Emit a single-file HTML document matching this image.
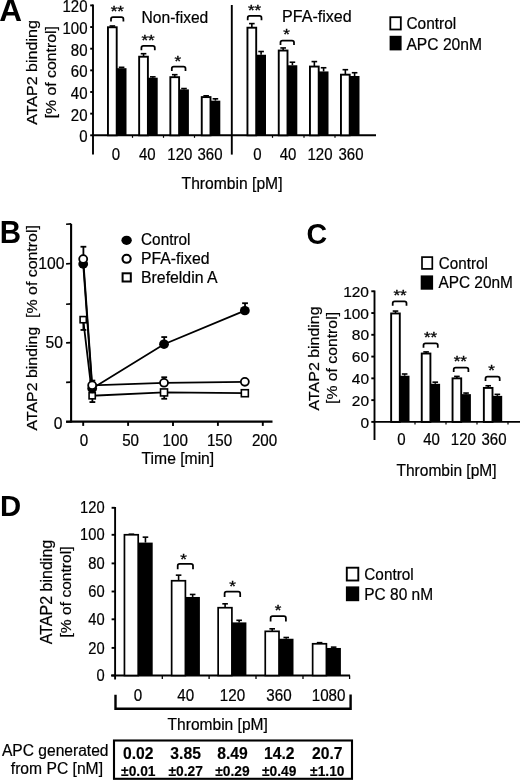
<!DOCTYPE html>
<html><head><meta charset="utf-8"><title>Figure</title>
<style>
html,body{margin:0;padding:0;background:#fff;}
svg{display:block;filter:blur(0.6px);font-family:"Liberation Sans",sans-serif;fill:#000;}
</style></head><body>
<svg width="520" height="781" viewBox="0 0 520 781">
<rect x="0" y="0" width="520" height="781" fill="#fff" stroke="none"/>
<text transform="translate(-0.70 20.70) scale(1 1.0)" font-size="31.5" font-weight="bold">A</text>
<line x1="93.00" y1="4.40" x2="93.00" y2="154.60" stroke="#000" stroke-width="1.9" stroke-linecap="butt"/>
<line x1="92.20" y1="135.30" x2="376.00" y2="135.30" stroke="#000" stroke-width="1.9" stroke-linecap="butt"/>
<line x1="90.20" y1="135.30" x2="93.00" y2="135.30" stroke="#000" stroke-width="1.9" stroke-linecap="butt"/>
<text transform="translate(87.50 142.20) scale(1 1.1)" font-size="15" text-anchor="end" stroke="#000" stroke-width="0.2">0</text>
<line x1="90.20" y1="113.65" x2="93.00" y2="113.65" stroke="#000" stroke-width="1.9" stroke-linecap="butt"/>
<text transform="translate(87.50 120.55) scale(1 1.1)" font-size="15" text-anchor="end" stroke="#000" stroke-width="0.2">20</text>
<line x1="90.20" y1="92.00" x2="93.00" y2="92.00" stroke="#000" stroke-width="1.9" stroke-linecap="butt"/>
<text transform="translate(87.50 98.90) scale(1 1.1)" font-size="15" text-anchor="end" stroke="#000" stroke-width="0.2">40</text>
<line x1="90.20" y1="70.35" x2="93.00" y2="70.35" stroke="#000" stroke-width="1.9" stroke-linecap="butt"/>
<text transform="translate(87.50 77.25) scale(1 1.1)" font-size="15" text-anchor="end" stroke="#000" stroke-width="0.2">60</text>
<line x1="90.20" y1="48.70" x2="93.00" y2="48.70" stroke="#000" stroke-width="1.9" stroke-linecap="butt"/>
<text transform="translate(87.50 55.60) scale(1 1.1)" font-size="15" text-anchor="end" stroke="#000" stroke-width="0.2">80</text>
<line x1="90.20" y1="27.05" x2="93.00" y2="27.05" stroke="#000" stroke-width="1.9" stroke-linecap="butt"/>
<text transform="translate(87.50 33.95) scale(1 1.1)" font-size="15" text-anchor="end" stroke="#000" stroke-width="0.2">100</text>
<line x1="90.20" y1="5.40" x2="93.00" y2="5.40" stroke="#000" stroke-width="1.9" stroke-linecap="butt"/>
<text transform="translate(87.50 12.30) scale(1 1.1)" font-size="15" text-anchor="end" stroke="#000" stroke-width="0.2">120</text>
<line x1="231.80" y1="5.00" x2="231.80" y2="154.60" stroke="#000" stroke-width="1.9" stroke-linecap="butt"/>
<text transform="translate(37.40 72.50) rotate(-90) scale(1 1.0)" font-size="15" text-anchor="middle" textLength="104.60" lengthAdjust="spacingAndGlyphs" stroke="#000" stroke-width="0.2">ATAP2 binding</text>
<text transform="translate(55.60 72.20) rotate(-90) scale(1 1.0)" font-size="15" text-anchor="middle" textLength="92.20" lengthAdjust="spacingAndGlyphs" stroke="#000" stroke-width="0.2">[% of control]</text>
<rect x="107.95" y="27.27" width="8.75" height="108.03" fill="#fff" stroke="#000" stroke-width="1.9"/>
<rect x="116.70" y="68.19" width="9.80" height="67.11" fill="#000"/>
<line x1="112.35" y1="25.97" x2="112.35" y2="27.27" stroke="#000" stroke-width="1.6" stroke-linecap="butt"/>
<line x1="109.55" y1="25.97" x2="115.15" y2="25.97" stroke="#000" stroke-width="1.6" stroke-linecap="butt"/>
<line x1="121.60" y1="67.32" x2="121.60" y2="68.19" stroke="#000" stroke-width="1.6" stroke-linecap="butt"/>
<line x1="118.80" y1="67.32" x2="124.40" y2="67.32" stroke="#000" stroke-width="1.6" stroke-linecap="butt"/>
<rect x="139.15" y="56.71" width="8.75" height="78.59" fill="#fff" stroke="#000" stroke-width="1.9"/>
<rect x="147.90" y="77.71" width="9.80" height="57.59" fill="#000"/>
<line x1="143.55" y1="53.68" x2="143.55" y2="56.71" stroke="#000" stroke-width="1.6" stroke-linecap="butt"/>
<line x1="140.75" y1="53.68" x2="146.35" y2="53.68" stroke="#000" stroke-width="1.6" stroke-linecap="butt"/>
<line x1="152.80" y1="76.85" x2="152.80" y2="77.71" stroke="#000" stroke-width="1.6" stroke-linecap="butt"/>
<line x1="150.00" y1="76.85" x2="155.60" y2="76.85" stroke="#000" stroke-width="1.6" stroke-linecap="butt"/>
<rect x="170.35" y="77.17" width="8.75" height="58.13" fill="#fff" stroke="#000" stroke-width="1.9"/>
<rect x="179.10" y="89.40" width="9.80" height="45.90" fill="#000"/>
<line x1="174.75" y1="74.68" x2="174.75" y2="77.17" stroke="#000" stroke-width="1.6" stroke-linecap="butt"/>
<line x1="171.95" y1="74.68" x2="177.55" y2="74.68" stroke="#000" stroke-width="1.6" stroke-linecap="butt"/>
<line x1="184.00" y1="88.54" x2="184.00" y2="89.40" stroke="#000" stroke-width="1.6" stroke-linecap="butt"/>
<line x1="181.20" y1="88.54" x2="186.80" y2="88.54" stroke="#000" stroke-width="1.6" stroke-linecap="butt"/>
<rect x="201.75" y="97.09" width="8.75" height="38.21" fill="#fff" stroke="#000" stroke-width="1.9"/>
<rect x="210.50" y="100.66" width="9.80" height="34.64" fill="#000"/>
<line x1="206.15" y1="95.79" x2="206.15" y2="97.09" stroke="#000" stroke-width="1.6" stroke-linecap="butt"/>
<line x1="203.35" y1="95.79" x2="208.95" y2="95.79" stroke="#000" stroke-width="1.6" stroke-linecap="butt"/>
<line x1="215.40" y1="98.82" x2="215.40" y2="100.66" stroke="#000" stroke-width="1.6" stroke-linecap="butt"/>
<line x1="212.60" y1="98.82" x2="218.20" y2="98.82" stroke="#000" stroke-width="1.6" stroke-linecap="butt"/>
<rect x="247.45" y="27.70" width="8.75" height="107.60" fill="#fff" stroke="#000" stroke-width="1.9"/>
<rect x="256.20" y="54.76" width="9.80" height="80.54" fill="#000"/>
<line x1="251.85" y1="23.59" x2="251.85" y2="27.70" stroke="#000" stroke-width="1.6" stroke-linecap="butt"/>
<line x1="249.05" y1="23.59" x2="254.65" y2="23.59" stroke="#000" stroke-width="1.6" stroke-linecap="butt"/>
<line x1="261.10" y1="51.51" x2="261.10" y2="54.76" stroke="#000" stroke-width="1.6" stroke-linecap="butt"/>
<line x1="258.30" y1="51.51" x2="263.90" y2="51.51" stroke="#000" stroke-width="1.6" stroke-linecap="butt"/>
<rect x="278.75" y="50.54" width="8.75" height="84.76" fill="#fff" stroke="#000" stroke-width="1.9"/>
<rect x="287.50" y="65.26" width="9.80" height="70.04" fill="#000"/>
<line x1="283.15" y1="47.94" x2="283.15" y2="50.54" stroke="#000" stroke-width="1.6" stroke-linecap="butt"/>
<line x1="280.35" y1="47.94" x2="285.95" y2="47.94" stroke="#000" stroke-width="1.6" stroke-linecap="butt"/>
<line x1="292.40" y1="62.23" x2="292.40" y2="65.26" stroke="#000" stroke-width="1.6" stroke-linecap="butt"/>
<line x1="289.60" y1="62.23" x2="295.20" y2="62.23" stroke="#000" stroke-width="1.6" stroke-linecap="butt"/>
<rect x="309.95" y="66.56" width="8.75" height="68.74" fill="#fff" stroke="#000" stroke-width="1.9"/>
<rect x="318.70" y="71.43" width="9.80" height="63.87" fill="#000"/>
<line x1="314.35" y1="61.58" x2="314.35" y2="66.56" stroke="#000" stroke-width="1.6" stroke-linecap="butt"/>
<line x1="311.55" y1="61.58" x2="317.15" y2="61.58" stroke="#000" stroke-width="1.6" stroke-linecap="butt"/>
<line x1="323.60" y1="67.75" x2="323.60" y2="71.43" stroke="#000" stroke-width="1.6" stroke-linecap="butt"/>
<line x1="320.80" y1="67.75" x2="326.40" y2="67.75" stroke="#000" stroke-width="1.6" stroke-linecap="butt"/>
<rect x="340.95" y="74.68" width="8.75" height="60.62" fill="#fff" stroke="#000" stroke-width="1.9"/>
<rect x="349.70" y="75.98" width="9.80" height="59.32" fill="#000"/>
<line x1="345.35" y1="69.70" x2="345.35" y2="74.68" stroke="#000" stroke-width="1.6" stroke-linecap="butt"/>
<line x1="342.55" y1="69.70" x2="348.15" y2="69.70" stroke="#000" stroke-width="1.6" stroke-linecap="butt"/>
<line x1="354.60" y1="72.73" x2="354.60" y2="75.98" stroke="#000" stroke-width="1.6" stroke-linecap="butt"/>
<line x1="351.80" y1="72.73" x2="357.40" y2="72.73" stroke="#000" stroke-width="1.6" stroke-linecap="butt"/>
<line x1="132.50" y1="135.30" x2="132.50" y2="137.80" stroke="#000" stroke-width="1.2" stroke-linecap="butt"/>
<line x1="163.50" y1="135.30" x2="163.50" y2="137.80" stroke="#000" stroke-width="1.2" stroke-linecap="butt"/>
<line x1="194.50" y1="135.30" x2="194.50" y2="137.80" stroke="#000" stroke-width="1.2" stroke-linecap="butt"/>
<line x1="272.50" y1="135.30" x2="272.50" y2="137.80" stroke="#000" stroke-width="1.2" stroke-linecap="butt"/>
<line x1="304.00" y1="135.30" x2="304.00" y2="137.80" stroke="#000" stroke-width="1.2" stroke-linecap="butt"/>
<line x1="335.00" y1="135.30" x2="335.00" y2="137.80" stroke="#000" stroke-width="1.2" stroke-linecap="butt"/>
<path d="M111.00 21.50 V19.10 Q111.00 17.10 113.00 17.10 H121.40 Q123.40 17.10 123.40 19.10 V21.50" fill="none" stroke="#000" stroke-width="1.75"/>
<text transform="translate(117.30 16.49) scale(1 0.9)" font-size="17" text-anchor="middle" stroke="#000" stroke-width="0.4">**</text>
<path d="M141.40 50.30 V47.90 Q141.40 45.90 143.40 45.90 H152.80 Q154.80 45.90 154.80 47.90 V50.30" fill="none" stroke="#000" stroke-width="1.75"/>
<text transform="translate(148.00 45.29) scale(1 0.9)" font-size="17" text-anchor="middle" stroke="#000" stroke-width="0.4">**</text>
<path d="M171.80 70.90 V68.50 Q171.80 66.50 173.80 66.50 H183.50 Q185.50 66.50 185.50 68.50 V70.90" fill="none" stroke="#000" stroke-width="1.75"/>
<text transform="translate(177.80 66.29) scale(1 0.9)" font-size="17" text-anchor="middle" stroke="#000" stroke-width="0.4">*</text>
<path d="M247.70 20.30 V17.90 Q247.70 15.90 249.70 15.90 H259.50 Q261.50 15.90 261.50 17.90 V20.30" fill="none" stroke="#000" stroke-width="1.75"/>
<text transform="translate(254.50 15.19) scale(1 0.9)" font-size="17" text-anchor="middle" stroke="#000" stroke-width="0.4">**</text>
<path d="M280.50 45.00 V42.60 Q280.50 40.60 282.50 40.60 H292.00 Q294.00 40.60 294.00 42.60 V45.00" fill="none" stroke="#000" stroke-width="1.75"/>
<text transform="translate(286.50 39.49) scale(1 0.9)" font-size="17" text-anchor="middle" stroke="#000" stroke-width="0.4">*</text>
<text transform="translate(141.50 22.50) scale(1 1.08)" font-size="15.4" textLength="66.80" lengthAdjust="spacingAndGlyphs" stroke="#000" stroke-width="0.2">Non-fixed</text>
<text transform="translate(282.10 22.40) scale(1 1.03)" font-size="15.6" textLength="69.60" lengthAdjust="spacingAndGlyphs" stroke="#000" stroke-width="0.2">PFA-fixed</text>
<text transform="translate(116.00 159.50) scale(1 1.12)" font-size="15" text-anchor="middle" stroke="#000" stroke-width="0.2">0</text>
<text transform="translate(147.30 159.50) scale(1 1.12)" font-size="15" text-anchor="middle" stroke="#000" stroke-width="0.2">40</text>
<text transform="translate(179.80 159.50) scale(1 1.12)" font-size="15" text-anchor="middle" stroke="#000" stroke-width="0.2">120</text>
<text transform="translate(210.00 159.50) scale(1 1.12)" font-size="15" text-anchor="middle" stroke="#000" stroke-width="0.2">360</text>
<text transform="translate(257.50 159.50) scale(1 1.12)" font-size="15" text-anchor="middle" stroke="#000" stroke-width="0.2">0</text>
<text transform="translate(288.00 159.50) scale(1 1.12)" font-size="15" text-anchor="middle" stroke="#000" stroke-width="0.2">40</text>
<text transform="translate(320.00 159.50) scale(1 1.12)" font-size="15" text-anchor="middle" stroke="#000" stroke-width="0.2">120</text>
<text transform="translate(351.00 159.50) scale(1 1.12)" font-size="15" text-anchor="middle" stroke="#000" stroke-width="0.2">360</text>
<text transform="translate(181.60 189.10) scale(1 1.1)" font-size="15" textLength="100.90" lengthAdjust="spacingAndGlyphs" stroke="#000" stroke-width="0.2">Thrombin [pM]</text>
<rect x="390.30" y="17.20" width="10.50" height="12.30" fill="#fff" stroke="#000" stroke-width="1.8"/>
<rect x="389.6" y="35.8" width="12" height="14.6" fill="#000"/>
<text transform="translate(406.40 29.40) scale(1 1.1)" font-size="15.5" textLength="49.80" lengthAdjust="spacingAndGlyphs" stroke="#000" stroke-width="0.2">Control</text>
<text transform="translate(406.40 49.60) scale(1 1.1)" font-size="15.5" textLength="75.60" lengthAdjust="spacingAndGlyphs" stroke="#000" stroke-width="0.2">APC 20nM</text>
<text transform="translate(-0.20 243.00) scale(1 1.04)" font-size="29.5" font-weight="bold">B</text>
<line x1="71.10" y1="223.80" x2="71.10" y2="422.60" stroke="#000" stroke-width="2.1" stroke-linecap="butt"/>
<line x1="66.10" y1="421.70" x2="272.50" y2="421.70" stroke="#000" stroke-width="2.3000000000000003" stroke-linecap="butt"/>
<line x1="66.10" y1="422.00" x2="71.10" y2="421.70" stroke="#000" stroke-width="1.7000000000000002" stroke-linecap="butt"/>
<line x1="66.10" y1="382.45" x2="71.10" y2="382.15" stroke="#000" stroke-width="1.7000000000000002" stroke-linecap="butt"/>
<line x1="66.10" y1="342.90" x2="71.10" y2="342.60" stroke="#000" stroke-width="1.7000000000000002" stroke-linecap="butt"/>
<line x1="66.10" y1="304.25" x2="71.10" y2="303.95" stroke="#000" stroke-width="1.7000000000000002" stroke-linecap="butt"/>
<line x1="66.10" y1="263.80" x2="71.10" y2="263.50" stroke="#000" stroke-width="1.7000000000000002" stroke-linecap="butt"/>
<line x1="66.10" y1="224.25" x2="71.10" y2="223.95" stroke="#000" stroke-width="1.7000000000000002" stroke-linecap="butt"/>
<text transform="translate(62.40 428.80) scale(1 1.0)" font-size="15.7" text-anchor="end" stroke="#000" stroke-width="0.2">0</text>
<text transform="translate(62.90 348.30) scale(1 1.0)" font-size="15.7" text-anchor="end" stroke="#000" stroke-width="0.2">50</text>
<text transform="translate(64.40 268.90) scale(1 1.0)" font-size="15.7" text-anchor="end" stroke="#000" stroke-width="0.2">100</text>
<line x1="83.20" y1="421.70" x2="83.20" y2="425.90" stroke="#000" stroke-width="1.9000000000000001" stroke-linecap="butt"/>
<text transform="translate(84.00 445.90) scale(1 1.1)" font-size="15.2" text-anchor="middle" stroke="#000" stroke-width="0.2">0</text>
<line x1="128.10" y1="421.70" x2="128.10" y2="425.90" stroke="#000" stroke-width="1.9000000000000001" stroke-linecap="butt"/>
<text transform="translate(130.60 445.90) scale(1 1.1)" font-size="15.2" text-anchor="middle" stroke="#000" stroke-width="0.2">50</text>
<line x1="173.00" y1="421.70" x2="173.00" y2="425.90" stroke="#000" stroke-width="1.9000000000000001" stroke-linecap="butt"/>
<text transform="translate(175.30 445.90) scale(1 1.1)" font-size="15.2" text-anchor="middle" stroke="#000" stroke-width="0.2">100</text>
<line x1="217.90" y1="421.70" x2="217.90" y2="425.90" stroke="#000" stroke-width="1.9000000000000001" stroke-linecap="butt"/>
<text transform="translate(219.60 445.90) scale(1 1.1)" font-size="15.2" text-anchor="middle" stroke="#000" stroke-width="0.2">150</text>
<line x1="262.80" y1="421.70" x2="262.80" y2="425.90" stroke="#000" stroke-width="1.9000000000000001" stroke-linecap="butt"/>
<text transform="translate(264.60 445.90) scale(1 1.1)" font-size="15.2" text-anchor="middle" stroke="#000" stroke-width="0.2">200</text>
<text transform="translate(141.60 463.50) scale(1 1.1)" font-size="15" textLength="72.60" lengthAdjust="spacingAndGlyphs" stroke="#000" stroke-width="0.2">Time [min]</text>
<text transform="translate(37.30 327.80) rotate(-90) scale(1 1.0)" font-size="15" text-anchor="middle" textLength="205.30" lengthAdjust="spacingAndGlyphs" stroke="#000" stroke-width="0.2">ATAP2 binding&#160; [% of control]</text>
<polyline points="83.20,319.66 92.18,395.76 164.02,392.43 244.84,393.22" fill="none" stroke="#000" stroke-width="1.8"/>
<polyline points="83.20,259.07 92.18,385.31 164.02,382.78 244.84,381.83" fill="none" stroke="#000" stroke-width="1.8"/>
<polyline points="83.20,263.97 92.18,388.48 164.02,344.18 244.84,310.64" fill="none" stroke="#000" stroke-width="1.8"/>
<line x1="83.40" y1="329.94" x2="83.40" y2="319.66" stroke="#000" stroke-width="1.8" stroke-linecap="butt"/>
<line x1="80.50" y1="329.94" x2="86.30" y2="329.94" stroke="#000" stroke-width="1.8" stroke-linecap="butt"/>
<line x1="92.38" y1="402.08" x2="92.38" y2="395.76" stroke="#000" stroke-width="1.8" stroke-linecap="butt"/>
<line x1="89.48" y1="402.08" x2="95.28" y2="402.08" stroke="#000" stroke-width="1.8" stroke-linecap="butt"/>
<line x1="164.22" y1="398.76" x2="164.22" y2="392.43" stroke="#000" stroke-width="1.8" stroke-linecap="butt"/>
<line x1="161.32" y1="398.76" x2="167.12" y2="398.76" stroke="#000" stroke-width="1.8" stroke-linecap="butt"/>
<line x1="83.40" y1="246.73" x2="83.40" y2="259.07" stroke="#000" stroke-width="1.8" stroke-linecap="butt"/>
<line x1="80.50" y1="246.73" x2="86.30" y2="246.73" stroke="#000" stroke-width="1.8" stroke-linecap="butt"/>
<line x1="92.38" y1="380.57" x2="92.38" y2="385.31" stroke="#000" stroke-width="1.8" stroke-linecap="butt"/>
<line x1="89.48" y1="380.57" x2="95.28" y2="380.57" stroke="#000" stroke-width="1.8" stroke-linecap="butt"/>
<line x1="164.22" y1="377.25" x2="164.22" y2="382.78" stroke="#000" stroke-width="1.8" stroke-linecap="butt"/>
<line x1="161.32" y1="377.25" x2="167.12" y2="377.25" stroke="#000" stroke-width="1.8" stroke-linecap="butt"/>
<line x1="164.22" y1="337.06" x2="164.22" y2="344.18" stroke="#000" stroke-width="1.8" stroke-linecap="butt"/>
<line x1="161.32" y1="337.06" x2="167.12" y2="337.06" stroke="#000" stroke-width="1.8" stroke-linecap="butt"/>
<line x1="245.04" y1="303.21" x2="245.04" y2="310.64" stroke="#000" stroke-width="1.8" stroke-linecap="butt"/>
<line x1="242.14" y1="303.21" x2="247.94" y2="303.21" stroke="#000" stroke-width="1.8" stroke-linecap="butt"/>
<rect x="80.10" y="316.56" width="6.20" height="6.20" fill="#fff" stroke="#000" stroke-width="1.6"/>
<rect x="89.08" y="392.66" width="6.20" height="6.20" fill="#fff" stroke="#000" stroke-width="1.6"/>
<rect x="160.52" y="388.93" width="7.00" height="7.00" fill="#fff" stroke="#000" stroke-width="1.6"/>
<rect x="241.34" y="389.72" width="7.00" height="7.00" fill="#fff" stroke="#000" stroke-width="1.6"/>
<ellipse cx="83.20" cy="263.97" rx="4.9" ry="4.7" fill="#000"/>
<ellipse cx="92.18" cy="388.48" rx="4.9" ry="4.7" fill="#000"/>
<ellipse cx="164.02" cy="344.18" rx="4.9" ry="4.7" fill="#000"/>
<ellipse cx="244.84" cy="310.64" rx="4.9" ry="4.7" fill="#000"/>
<ellipse cx="83.20" cy="259.07" rx="4.0" ry="3.9" fill="#fff" stroke="#000" stroke-width="1.8"/>
<ellipse cx="92.18" cy="385.31" rx="4.0" ry="3.9" fill="#fff" stroke="#000" stroke-width="1.8"/>
<ellipse cx="164.02" cy="382.78" rx="4.0" ry="3.9" fill="#fff" stroke="#000" stroke-width="1.8"/>
<ellipse cx="244.84" cy="381.83" rx="4.0" ry="3.9" fill="#fff" stroke="#000" stroke-width="1.8"/>
<ellipse cx="126.6" cy="240.3" rx="5.2" ry="4.6" fill="#000"/>
<ellipse cx="126.6" cy="258.8" rx="4.1" ry="4.0" fill="#fff" stroke="#000" stroke-width="2.1"/>
<rect x="122.60" y="273.30" width="8.20" height="8.20" fill="#fff" stroke="#000" stroke-width="2.0"/>
<text transform="translate(141.00 245.20) scale(1 1.06)" font-size="15.5" textLength="49.50" lengthAdjust="spacingAndGlyphs" stroke="#000" stroke-width="0.2">Control</text>
<text transform="translate(141.00 263.90) scale(1 1.06)" font-size="15.5" textLength="68.50" lengthAdjust="spacingAndGlyphs" stroke="#000" stroke-width="0.2">PFA-fixed</text>
<text transform="translate(141.00 282.60) scale(1 1.06)" font-size="15.5" textLength="76.60" lengthAdjust="spacingAndGlyphs" stroke="#000" stroke-width="0.2">Brefeldin A</text>
<text transform="translate(306.50 243.50) scale(1 1.06)" font-size="28.6" font-weight="bold">C</text>
<line x1="374.50" y1="290.50" x2="374.50" y2="440.00" stroke="#000" stroke-width="1.9" stroke-linecap="butt"/>
<line x1="373.70" y1="421.90" x2="520.00" y2="421.90" stroke="#000" stroke-width="1.9" stroke-linecap="butt"/>
<line x1="371.30" y1="421.90" x2="374.50" y2="421.90" stroke="#000" stroke-width="1.9" stroke-linecap="butt"/>
<text transform="translate(369.00 427.50) scale(1 0.95)" font-size="15.5" text-anchor="end" stroke="#000" stroke-width="0.2">0</text>
<line x1="371.30" y1="400.13" x2="374.50" y2="400.13" stroke="#000" stroke-width="1.9" stroke-linecap="butt"/>
<text transform="translate(369.00 405.73) scale(1 0.95)" font-size="15.5" text-anchor="end" stroke="#000" stroke-width="0.2">20</text>
<line x1="371.30" y1="378.35" x2="374.50" y2="378.35" stroke="#000" stroke-width="1.9" stroke-linecap="butt"/>
<text transform="translate(369.00 383.95) scale(1 0.95)" font-size="15.5" text-anchor="end" stroke="#000" stroke-width="0.2">40</text>
<line x1="371.30" y1="356.58" x2="374.50" y2="356.58" stroke="#000" stroke-width="1.9" stroke-linecap="butt"/>
<text transform="translate(369.00 362.18) scale(1 0.95)" font-size="15.5" text-anchor="end" stroke="#000" stroke-width="0.2">60</text>
<line x1="371.30" y1="334.80" x2="374.50" y2="334.80" stroke="#000" stroke-width="1.9" stroke-linecap="butt"/>
<text transform="translate(369.00 340.40) scale(1 0.95)" font-size="15.5" text-anchor="end" stroke="#000" stroke-width="0.2">80</text>
<line x1="371.30" y1="313.03" x2="374.50" y2="313.03" stroke="#000" stroke-width="1.9" stroke-linecap="butt"/>
<text transform="translate(369.00 318.63) scale(1 0.95)" font-size="15.5" text-anchor="end" stroke="#000" stroke-width="0.2">100</text>
<line x1="371.30" y1="291.26" x2="374.50" y2="291.26" stroke="#000" stroke-width="1.9" stroke-linecap="butt"/>
<text transform="translate(369.00 296.86) scale(1 0.95)" font-size="15.5" text-anchor="end" stroke="#000" stroke-width="0.2">120</text>
<text transform="translate(318.90 358.40) rotate(-90) scale(1 1.0)" font-size="15" text-anchor="middle" textLength="104.00" lengthAdjust="spacingAndGlyphs" stroke="#000" stroke-width="0.2">ATAP2 binding</text>
<text transform="translate(336.50 358.00) rotate(-90) scale(1 0.96)" font-size="15" text-anchor="middle" textLength="92.00" lengthAdjust="spacingAndGlyphs" stroke="#000" stroke-width="0.2">[% of control]</text>
<rect x="391.15" y="313.47" width="8.65" height="108.43" fill="#fff" stroke="#000" stroke-width="1.9"/>
<rect x="399.80" y="375.74" width="9.70" height="46.16" fill="#000"/>
<line x1="395.50" y1="311.07" x2="395.50" y2="313.47" stroke="#000" stroke-width="1.6" stroke-linecap="butt"/>
<line x1="392.70" y1="311.07" x2="398.30" y2="311.07" stroke="#000" stroke-width="1.6" stroke-linecap="butt"/>
<line x1="404.65" y1="374.00" x2="404.65" y2="375.74" stroke="#000" stroke-width="1.6" stroke-linecap="butt"/>
<line x1="401.85" y1="374.00" x2="407.45" y2="374.00" stroke="#000" stroke-width="1.6" stroke-linecap="butt"/>
<rect x="421.75" y="353.53" width="8.65" height="68.37" fill="#fff" stroke="#000" stroke-width="1.9"/>
<rect x="430.40" y="383.80" width="9.70" height="38.10" fill="#000"/>
<line x1="426.10" y1="351.90" x2="426.10" y2="353.53" stroke="#000" stroke-width="1.6" stroke-linecap="butt"/>
<line x1="423.30" y1="351.90" x2="428.90" y2="351.90" stroke="#000" stroke-width="1.6" stroke-linecap="butt"/>
<line x1="435.25" y1="382.16" x2="435.25" y2="383.80" stroke="#000" stroke-width="1.6" stroke-linecap="butt"/>
<line x1="432.45" y1="382.16" x2="438.05" y2="382.16" stroke="#000" stroke-width="1.6" stroke-linecap="butt"/>
<rect x="452.55" y="378.35" width="8.65" height="43.55" fill="#fff" stroke="#000" stroke-width="1.9"/>
<rect x="461.20" y="394.14" width="9.70" height="27.76" fill="#000"/>
<line x1="456.90" y1="376.39" x2="456.90" y2="378.35" stroke="#000" stroke-width="1.6" stroke-linecap="butt"/>
<line x1="454.10" y1="376.39" x2="459.70" y2="376.39" stroke="#000" stroke-width="1.6" stroke-linecap="butt"/>
<line x1="466.05" y1="393.05" x2="466.05" y2="394.14" stroke="#000" stroke-width="1.6" stroke-linecap="butt"/>
<line x1="463.25" y1="393.05" x2="468.85" y2="393.05" stroke="#000" stroke-width="1.6" stroke-linecap="butt"/>
<rect x="483.85" y="387.93" width="8.65" height="33.97" fill="#fff" stroke="#000" stroke-width="1.9"/>
<rect x="492.50" y="395.88" width="9.70" height="26.02" fill="#000"/>
<line x1="488.20" y1="385.76" x2="488.20" y2="387.93" stroke="#000" stroke-width="1.6" stroke-linecap="butt"/>
<line x1="485.40" y1="385.76" x2="491.00" y2="385.76" stroke="#000" stroke-width="1.6" stroke-linecap="butt"/>
<line x1="497.35" y1="394.36" x2="497.35" y2="395.88" stroke="#000" stroke-width="1.6" stroke-linecap="butt"/>
<line x1="494.55" y1="394.36" x2="500.15" y2="394.36" stroke="#000" stroke-width="1.6" stroke-linecap="butt"/>
<line x1="415.00" y1="421.90" x2="415.00" y2="424.40" stroke="#000" stroke-width="1.2" stroke-linecap="butt"/>
<line x1="446.00" y1="421.90" x2="446.00" y2="424.40" stroke="#000" stroke-width="1.2" stroke-linecap="butt"/>
<line x1="477.00" y1="421.90" x2="477.00" y2="424.40" stroke="#000" stroke-width="1.2" stroke-linecap="butt"/>
<line x1="508.00" y1="421.90" x2="508.00" y2="424.40" stroke="#000" stroke-width="1.2" stroke-linecap="butt"/>
<path d="M392.70 305.70 V303.30 Q392.70 301.30 394.70 301.30 H404.50 Q406.50 301.30 406.50 303.30 V305.70" fill="none" stroke="#000" stroke-width="1.75"/>
<text transform="translate(400.00 300.29) scale(1 0.9)" font-size="17" text-anchor="middle" stroke="#000" stroke-width="0.4">**</text>
<path d="M423.50 347.70 V345.30 Q423.50 343.30 425.50 343.30 H435.80 Q437.80 343.30 437.80 345.30 V347.70" fill="none" stroke="#000" stroke-width="1.75"/>
<text transform="translate(430.50 342.19) scale(1 0.9)" font-size="17" text-anchor="middle" stroke="#000" stroke-width="0.4">**</text>
<path d="M453.70 372.00 V369.60 Q453.70 367.60 455.70 367.60 H466.40 Q468.40 367.60 468.40 369.60 V372.00" fill="none" stroke="#000" stroke-width="1.75"/>
<text transform="translate(460.30 366.29) scale(1 0.9)" font-size="17" text-anchor="middle" stroke="#000" stroke-width="0.4">**</text>
<path d="M485.50 381.10 V378.70 Q485.50 376.70 487.50 376.70 H497.70 Q499.70 376.70 499.70 378.70 V381.10" fill="none" stroke="#000" stroke-width="1.75"/>
<text transform="translate(491.60 375.39) scale(1 0.9)" font-size="17" text-anchor="middle" stroke="#000" stroke-width="0.4">*</text>
<text transform="translate(401.30 445.30) scale(1 1.13)" font-size="15" text-anchor="middle" stroke="#000" stroke-width="0.2">0</text>
<text transform="translate(431.50 445.30) scale(1 1.13)" font-size="15" text-anchor="middle" stroke="#000" stroke-width="0.2">40</text>
<text transform="translate(463.30 445.30) scale(1 1.13)" font-size="15" text-anchor="middle" stroke="#000" stroke-width="0.2">120</text>
<text transform="translate(494.00 445.30) scale(1 1.13)" font-size="15" text-anchor="middle" stroke="#000" stroke-width="0.2">360</text>
<text transform="translate(396.50 475.60) scale(1 1.12)" font-size="15" textLength="100.00" lengthAdjust="spacingAndGlyphs" stroke="#000" stroke-width="0.2">Thrombin [pM]</text>
<rect x="422.00" y="257.10" width="10.30" height="11.80" fill="#fff" stroke="#000" stroke-width="1.7"/>
<rect x="420.7" y="275.4" width="12.4" height="14.3" fill="#000"/>
<text transform="translate(438.80 268.70) scale(1 1.1)" font-size="15" textLength="49.00" lengthAdjust="spacingAndGlyphs" stroke="#000" stroke-width="0.2">Control</text>
<text transform="translate(438.40 287.90) scale(1 1.1)" font-size="15" textLength="74.50" lengthAdjust="spacingAndGlyphs" stroke="#000" stroke-width="0.2">APC 20nM</text>
<text transform="translate(0.10 515.90) scale(1 1.0)" font-size="29.3" font-weight="bold">D</text>
<line x1="115.10" y1="507.00" x2="115.10" y2="679.50" stroke="#000" stroke-width="1.9" stroke-linecap="butt"/>
<line x1="111.10" y1="675.50" x2="350.00" y2="675.50" stroke="#000" stroke-width="1.9" stroke-linecap="butt"/>
<line x1="111.60" y1="675.50" x2="115.10" y2="675.50" stroke="#000" stroke-width="1.9" stroke-linecap="butt"/>
<text transform="translate(104.60 681.10) scale(1 1.1)" font-size="14.7" text-anchor="end" stroke="#000" stroke-width="0.2">0</text>
<line x1="111.60" y1="647.90" x2="115.10" y2="647.90" stroke="#000" stroke-width="1.9" stroke-linecap="butt"/>
<text transform="translate(104.60 653.50) scale(1 1.1)" font-size="14.7" text-anchor="end" stroke="#000" stroke-width="0.2">20</text>
<line x1="111.60" y1="619.30" x2="115.10" y2="619.30" stroke="#000" stroke-width="1.9" stroke-linecap="butt"/>
<text transform="translate(104.60 624.90) scale(1 1.1)" font-size="14.7" text-anchor="end" stroke="#000" stroke-width="0.2">40</text>
<line x1="111.60" y1="591.50" x2="115.10" y2="591.50" stroke="#000" stroke-width="1.9" stroke-linecap="butt"/>
<text transform="translate(104.60 597.10) scale(1 1.1)" font-size="14.7" text-anchor="end" stroke="#000" stroke-width="0.2">60</text>
<line x1="111.60" y1="563.40" x2="115.10" y2="563.40" stroke="#000" stroke-width="1.9" stroke-linecap="butt"/>
<text transform="translate(104.60 569.00) scale(1 1.1)" font-size="14.7" text-anchor="end" stroke="#000" stroke-width="0.2">80</text>
<line x1="111.60" y1="534.80" x2="115.10" y2="534.80" stroke="#000" stroke-width="1.9" stroke-linecap="butt"/>
<text transform="translate(104.60 540.40) scale(1 1.1)" font-size="14.7" text-anchor="end" stroke="#000" stroke-width="0.2">100</text>
<line x1="111.60" y1="507.80" x2="115.10" y2="507.80" stroke="#000" stroke-width="1.9" stroke-linecap="butt"/>
<text transform="translate(104.60 513.40) scale(1 1.1)" font-size="14.7" text-anchor="end" stroke="#000" stroke-width="0.2">120</text>
<text transform="translate(52.30 592.00) rotate(-90) scale(1 1.04)" font-size="15" text-anchor="middle" textLength="104.50" lengthAdjust="spacingAndGlyphs" stroke="#000" stroke-width="0.2">ATAP2 binding</text>
<text transform="translate(70.90 592.00) rotate(-90) scale(1 0.97)" font-size="15" text-anchor="middle" textLength="91.00" lengthAdjust="spacingAndGlyphs" stroke="#000" stroke-width="0.2">[% of control]</text>
<rect x="124.45" y="534.77" width="13.75" height="140.73" fill="#fff" stroke="#000" stroke-width="1.7"/>
<rect x="138.20" y="542.60" width="14.50" height="132.90" fill="#000"/>
<line x1="131.40" y1="534.21" x2="131.40" y2="534.77" stroke="#000" stroke-width="1.6" stroke-linecap="butt"/>
<line x1="128.60" y1="534.21" x2="134.20" y2="534.21" stroke="#000" stroke-width="1.6" stroke-linecap="butt"/>
<line x1="145.45" y1="537.15" x2="145.45" y2="542.60" stroke="#000" stroke-width="1.6" stroke-linecap="butt"/>
<line x1="142.65" y1="537.15" x2="148.25" y2="537.15" stroke="#000" stroke-width="1.6" stroke-linecap="butt"/>
<rect x="171.65" y="580.75" width="13.75" height="94.75" fill="#fff" stroke="#000" stroke-width="1.7"/>
<rect x="185.40" y="596.96" width="14.50" height="78.54" fill="#000"/>
<line x1="178.60" y1="575.16" x2="178.60" y2="580.75" stroke="#000" stroke-width="1.6" stroke-linecap="butt"/>
<line x1="175.80" y1="575.16" x2="181.40" y2="575.16" stroke="#000" stroke-width="1.6" stroke-linecap="butt"/>
<line x1="192.65" y1="594.45" x2="192.65" y2="596.96" stroke="#000" stroke-width="1.6" stroke-linecap="butt"/>
<line x1="189.85" y1="594.45" x2="195.45" y2="594.45" stroke="#000" stroke-width="1.6" stroke-linecap="butt"/>
<rect x="218.15" y="607.72" width="13.75" height="67.78" fill="#fff" stroke="#000" stroke-width="1.7"/>
<rect x="231.90" y="622.39" width="14.50" height="53.11" fill="#000"/>
<line x1="225.10" y1="603.81" x2="225.10" y2="607.72" stroke="#000" stroke-width="1.6" stroke-linecap="butt"/>
<line x1="222.30" y1="603.81" x2="227.90" y2="603.81" stroke="#000" stroke-width="1.6" stroke-linecap="butt"/>
<line x1="239.15" y1="620.30" x2="239.15" y2="622.39" stroke="#000" stroke-width="1.6" stroke-linecap="butt"/>
<line x1="236.35" y1="620.30" x2="241.95" y2="620.30" stroke="#000" stroke-width="1.6" stroke-linecap="butt"/>
<rect x="265.25" y="631.34" width="13.75" height="44.16" fill="#fff" stroke="#000" stroke-width="1.7"/>
<rect x="279.00" y="638.75" width="14.50" height="36.75" fill="#000"/>
<line x1="272.20" y1="628.82" x2="272.20" y2="631.34" stroke="#000" stroke-width="1.6" stroke-linecap="butt"/>
<line x1="269.40" y1="628.82" x2="275.00" y2="628.82" stroke="#000" stroke-width="1.6" stroke-linecap="butt"/>
<line x1="286.25" y1="637.49" x2="286.25" y2="638.75" stroke="#000" stroke-width="1.6" stroke-linecap="butt"/>
<line x1="283.45" y1="637.49" x2="289.05" y2="637.49" stroke="#000" stroke-width="1.6" stroke-linecap="butt"/>
<rect x="312.65" y="643.78" width="13.75" height="31.72" fill="#fff" stroke="#000" stroke-width="1.7"/>
<rect x="326.40" y="647.97" width="14.50" height="27.53" fill="#000"/>
<line x1="319.60" y1="642.66" x2="319.60" y2="643.78" stroke="#000" stroke-width="1.6" stroke-linecap="butt"/>
<line x1="316.80" y1="642.66" x2="322.40" y2="642.66" stroke="#000" stroke-width="1.6" stroke-linecap="butt"/>
<line x1="333.65" y1="647.13" x2="333.65" y2="647.97" stroke="#000" stroke-width="1.6" stroke-linecap="butt"/>
<line x1="330.85" y1="647.13" x2="336.45" y2="647.13" stroke="#000" stroke-width="1.6" stroke-linecap="butt"/>
<line x1="162.30" y1="675.50" x2="162.30" y2="679.00" stroke="#000" stroke-width="1.3" stroke-linecap="butt"/>
<line x1="209.10" y1="675.50" x2="209.10" y2="679.00" stroke="#000" stroke-width="1.3" stroke-linecap="butt"/>
<line x1="256.00" y1="675.50" x2="256.00" y2="679.00" stroke="#000" stroke-width="1.3" stroke-linecap="butt"/>
<line x1="303.00" y1="675.50" x2="303.00" y2="679.00" stroke="#000" stroke-width="1.3" stroke-linecap="butt"/>
<line x1="349.60" y1="675.50" x2="349.60" y2="679.00" stroke="#000" stroke-width="1.3" stroke-linecap="butt"/>
<path d="M177.70 569.20 V565.80 Q177.70 563.80 179.70 563.80 H191.00 Q193.00 563.80 193.00 565.80 V569.20" fill="none" stroke="#000" stroke-width="1.75"/>
<text transform="translate(183.60 563.59) scale(1 0.9)" font-size="17" text-anchor="middle" stroke="#000" stroke-width="0.4">*</text>
<path d="M224.60 597.10 V593.70 Q224.60 591.70 226.60 591.70 H238.20 Q240.20 591.70 240.20 593.70 V597.10" fill="none" stroke="#000" stroke-width="1.75"/>
<text transform="translate(232.50 591.09) scale(1 0.9)" font-size="17" text-anchor="middle" stroke="#000" stroke-width="0.4">*</text>
<path d="M270.60 621.60 V618.20 Q270.60 616.20 272.60 616.20 H283.90 Q285.90 616.20 285.90 618.20 V621.60" fill="none" stroke="#000" stroke-width="1.75"/>
<text transform="translate(278.10 614.89) scale(1 0.9)" font-size="17" text-anchor="middle" stroke="#000" stroke-width="0.4">*</text>
<text transform="translate(138.00 701.30) scale(1 1.12)" font-size="15.2" text-anchor="middle" stroke="#000" stroke-width="0.2">0</text>
<text transform="translate(185.70 701.30) scale(1 1.12)" font-size="15.2" text-anchor="middle" stroke="#000" stroke-width="0.2">40</text>
<text transform="translate(232.50 701.30) scale(1 1.12)" font-size="15.2" text-anchor="middle" stroke="#000" stroke-width="0.2">120</text>
<text transform="translate(279.00 701.30) scale(1 1.12)" font-size="15.2" text-anchor="middle" stroke="#000" stroke-width="0.2">360</text>
<text transform="translate(328.60 701.30) scale(1 1.12)" font-size="15.2" text-anchor="middle" stroke="#000" stroke-width="0.2">1080</text>
<path d="M115.5 694.7 V708.7 H350.6 V694.5" fill="none" stroke="#000" stroke-width="2.4"/>
<text transform="translate(167.60 729.60) scale(1 1.08)" font-size="15" textLength="100.20" lengthAdjust="spacingAndGlyphs" stroke="#000" stroke-width="0.2">Thrombin [pM]</text>
<rect x="346.80" y="567.70" width="11.50" height="12.80" fill="#fff" stroke="#000" stroke-width="1.9"/>
<rect x="345.9" y="586.4" width="13.3" height="14.8" fill="#000"/>
<text transform="translate(364.30 579.50) scale(1 1.06)" font-size="15" textLength="49.40" lengthAdjust="spacingAndGlyphs" stroke="#000" stroke-width="0.2">Control</text>
<text transform="translate(364.30 599.70) scale(1 1.06)" font-size="15" textLength="68.80" lengthAdjust="spacingAndGlyphs" stroke="#000" stroke-width="0.2">PC 80 nM</text>
<rect x="114.00" y="740.50" width="238.00" height="38.30" fill="none" stroke="#000" stroke-width="2.1"/>
<text transform="translate(108.50 755.80) scale(1 1.02)" font-size="15.5" text-anchor="end" textLength="106.60" lengthAdjust="spacingAndGlyphs" stroke="#000" stroke-width="0.2">APC generated</text>
<text transform="translate(103.00 774.00) scale(1 1.02)" font-size="15.5" text-anchor="end" textLength="92.20" lengthAdjust="spacingAndGlyphs" stroke="#000" stroke-width="0.2">from PC [nM]</text>
<text transform="translate(138.30 758.50) scale(1 1.0)" font-size="15.7" text-anchor="middle" font-weight="bold" stroke="#000" stroke-width="0.15">0.02</text>
<text transform="translate(138.30 775.80) scale(1 1.0)" font-size="13.8" text-anchor="middle" font-weight="bold" stroke="#000" stroke-width="0.15">±0.01</text>
<text transform="translate(185.60 758.50) scale(1 1.0)" font-size="15.7" text-anchor="middle" font-weight="bold" stroke="#000" stroke-width="0.15">3.85</text>
<text transform="translate(185.60 775.80) scale(1 1.0)" font-size="13.8" text-anchor="middle" font-weight="bold" stroke="#000" stroke-width="0.15">±0.27</text>
<text transform="translate(232.50 758.50) scale(1 1.0)" font-size="15.7" text-anchor="middle" font-weight="bold" stroke="#000" stroke-width="0.15">8.49</text>
<text transform="translate(232.50 775.80) scale(1 1.0)" font-size="13.8" text-anchor="middle" font-weight="bold" stroke="#000" stroke-width="0.15">±0.29</text>
<text transform="translate(279.20 758.50) scale(1 1.0)" font-size="15.7" text-anchor="middle" font-weight="bold" stroke="#000" stroke-width="0.15">14.2</text>
<text transform="translate(279.20 775.80) scale(1 1.0)" font-size="13.8" text-anchor="middle" font-weight="bold" stroke="#000" stroke-width="0.15">±0.49</text>
<text transform="translate(327.30 758.50) scale(1 1.0)" font-size="15.7" text-anchor="middle" font-weight="bold" stroke="#000" stroke-width="0.15">20.7</text>
<text transform="translate(327.30 775.80) scale(1 1.0)" font-size="13.8" text-anchor="middle" font-weight="bold" stroke="#000" stroke-width="0.15">±1.10</text>
</svg>
</body></html>
